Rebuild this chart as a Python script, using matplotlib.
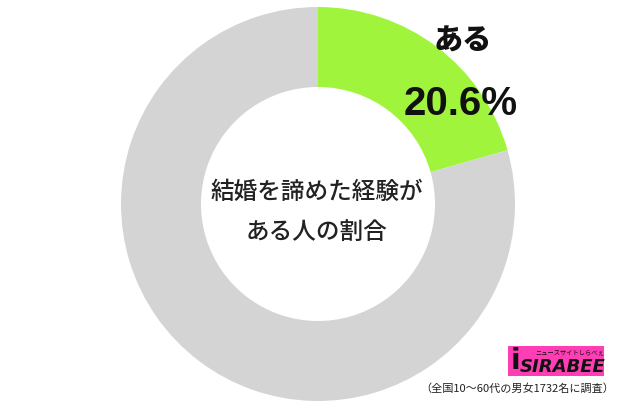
import matplotlib
matplotlib.use("Agg")
import matplotlib.pyplot as plt
from matplotlib.patches import Rectangle

plt.rcParams['font.family'] = ['Noto Sans CJK JP', 'DejaVu Sans']

labels = ['ある', 'ない']
values = [20.6, 79.4]
colors = ['#a0f53c', '#d4d4d4']
center_title = '結婚を諦めた経験が\nある人の割合'
footnote = '（全国10～60代の男女1732名に調査）'

fig = plt.figure(figsize=(6.4, 4.08), dpi=100)
ax = fig.add_axes([0, 0, 1, 1])

ax.pie(values, colors=colors, startangle=90, counterclock=False,
       center=(318, 204), radius=197,
       wedgeprops=dict(width=80, edgecolor='none'))
ax.set_xlim(0, 640)
ax.set_ylim(0, 408)
ax.set_aspect('equal')
ax.axis('off')

ax.text(317, 196, center_title, ha='center', va='center', fontsize=17,
        linespacing=1.95, color='#222222', fontweight='medium')

ax.text(463, 367, labels[0], ha='center', va='center', fontsize=21,
        fontweight='black', color='#111111')
ax.text(461, 304, f'{values[0]}%', ha='center', va='center', fontsize=29,
        fontweight='bold', color='#111111', family='Liberation Sans')

# logo
ax.add_patch(Rectangle((508, 32), 96, 30, facecolor='#ff3db4', edgecolor='none'))
ax.text(515, 47, 'i', ha='center', va='center', fontsize=20, fontweight='bold',
        color='#111111', family='DejaVu Sans')
ax.text(563, 41, 'SIRABEE', ha='center', va='center', fontsize=13,
        fontweight='black', style='italic', color='#111111', family='DejaVu Sans')
ax.text(570, 56, 'ニュースサイトしらべぇ', ha='center', va='center', fontsize=4.5,
        color='#111111')

ax.text(614, 19, footnote, ha='right', va='center', fontsize=8, color='#222222')

fig.savefig('out.png', dpi=100)
